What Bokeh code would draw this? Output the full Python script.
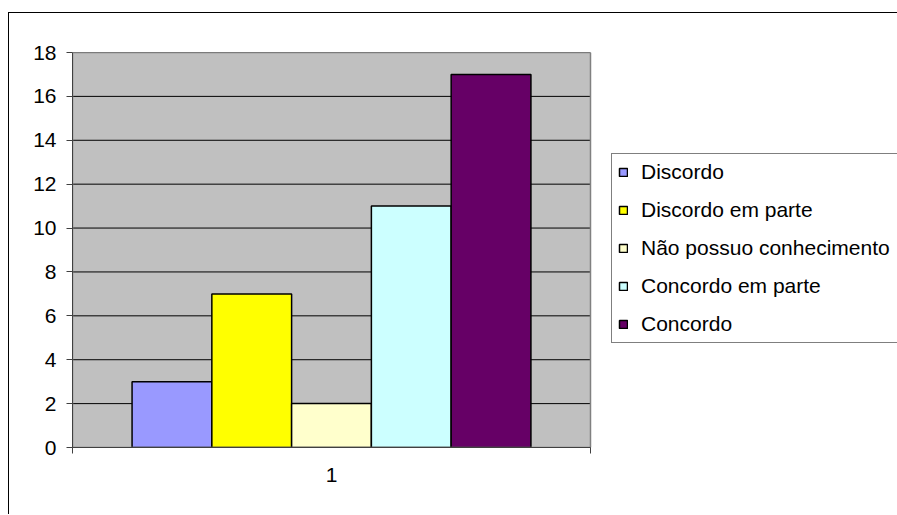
from bokeh.plotting import figure
from bokeh.models import Range1d, FixedTicker, Legend, LegendItem
from bokeh.embed import file_html
from bokeh.resources import INLINE

categories = ["1"]
series = ["Discordo", "Discordo em parte", "Não possuo conhecimento", "Concordo em parte", "Concordo"]
values = [3, 7, 2, 11, 17]
colors = ["#9999FF", "#FFFF00", "#FFFFCC", "#CCFFFF", "#660066"]
y_ticks = [0, 2, 4, 6, 8, 10, 12, 14, 16, 18]

FONT = "Liberation Sans"
FS = "21px"

# layout constants (pixels)
W, H = 889, 502
BL, BT, BB = 63, 39, 68
PLOT_W = 518                 # width of the grey plot area
FRAME_W = W - BL             # frame runs to the right edge of the canvas

x_lo = 0.5
x_hi = x_lo + len(categories)
x_end = x_lo + FRAME_W / PLOT_W * len(categories)

p = figure(width=W, height=H,
           x_range=Range1d(x_lo, x_end), y_range=Range1d(y_ticks[0], y_ticks[-1]),
           output_backend="svg", toolbar_location=None,
           min_border_left=BL, min_border_right=0,
           min_border_top=BT, min_border_bottom=BB,
           margin=(12, 0, 0, 8))
p.title.visible = False
p.styles = {"border-left": "1px solid #000", "border-top": "1px solid #000"}
p.background_fill_color = "white"
p.border_fill_color = "white"
p.outline_line_color = None
p.xgrid.visible = False
p.ygrid.visible = False

# grey plot area
p.quad(left=[x_lo], right=[x_hi], bottom=[y_ticks[0]], top=[y_ticks[-1]],
       fill_color="#C0C0C0", line_color=None)
# horizontal gridlines
p.segment(x0=[x_lo] * len(y_ticks), x1=[x_hi] * len(y_ticks), y0=y_ticks, y1=y_ticks,
          line_color="black", line_width=1)

# bars
n = len(series)
bw = 0.154
cat_pos = {c: i + 1 for i, c in enumerate(categories)}
items = []
for i, (name, v, col) in enumerate(zip(series, values, colors)):
    x = cat_pos[categories[0]] + (i - (n - 1) / 2) * bw
    r = p.vbar(x=[x], top=[v], bottom=0, width=bw, fill_color=col,
               line_color="black", line_width=1.5)
    items.append(LegendItem(label=name, renderers=[r]))

# plot-area border
p.quad(left=[x_lo], right=[x_hi], bottom=[y_ticks[0]], top=[y_ticks[-1]],
       fill_color=None, line_color="#808080", line_width=1.5)

# axes
p.yaxis.ticker = FixedTicker(ticks=y_ticks, minor_ticks=[])
p.yaxis.major_label_text_font = FONT
p.yaxis.major_label_text_font_size = FS
p.yaxis.major_label_text_color = "black"
p.yaxis.axis_line_color = "#404040"
p.yaxis.major_tick_line_color = "#404040"
p.yaxis.major_tick_in = 0
p.yaxis.major_tick_out = 6
p.yaxis.major_label_standoff = 10

p.xaxis.bounds = (x_lo, x_hi)
p.xaxis.ticker = FixedTicker(ticks=[cat_pos[c] for c in categories], minor_ticks=[x_lo, x_hi])
p.xaxis.major_label_overrides = {cat_pos[c]: c for c in categories}
p.xaxis.major_label_text_font = FONT
p.xaxis.major_label_text_font_size = FS
p.xaxis.major_label_text_color = "black"
p.xaxis.axis_line_color = "#404040"
p.xaxis.major_tick_line_color = None
p.xaxis.major_tick_in = 0
p.xaxis.major_tick_out = 6
p.xaxis.minor_tick_line_color = "#404040"
p.xaxis.minor_tick_in = 0
p.xaxis.minor_tick_out = 6
p.xaxis.major_label_standoff = 14

legend = Legend(items=items, location=(539, 104))
legend.label_text_font = FONT
legend.label_text_font_size = FS
legend.label_text_color = "black"
legend.glyph_width = 10
legend.glyph_height = 10
legend.label_standoff = 13
legend.label_width = 262
legend.spacing = 14
legend.padding = 6
legend.margin = 0
legend.border_line_color = "#000000"
legend.border_line_width = 1
legend.background_fill_color = "white"
legend.background_fill_alpha = 1
p.add_layout(legend, "center")

open("out.html", "w").write(file_html(p, INLINE))
